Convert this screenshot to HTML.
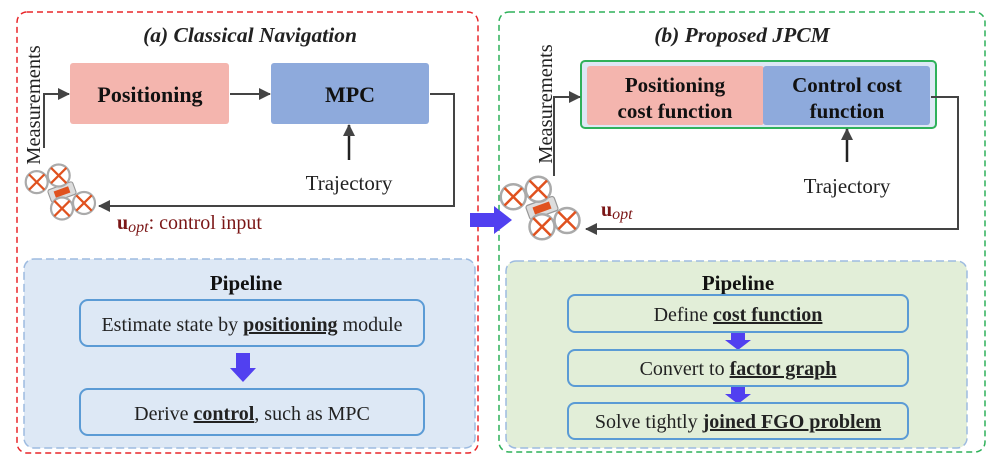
<!DOCTYPE html>
<html><head><meta charset="utf-8"><style>
body{margin:0;background:#fff;}
svg{display:block;font-family:"Liberation Serif",serif;}
</style></head><body>
<svg width="1002" height="460" viewBox="0 0 1002 460" xmlns="http://www.w3.org/2000/svg">
<defs>
<marker id="ah" markerWidth="12" markerHeight="12" refX="11" refY="6" orient="auto" markerUnits="userSpaceOnUse"><path d="M0,0 L12,6 L0,12 z" fill="#444"/></marker>
<g id="drone">
 <rect x="-12" y="-6" width="24" height="12" rx="2" fill="#ddd" stroke="#999" transform="rotate(-20)"/>
 <rect x="-7" y="-3" width="14" height="6" fill="#e0521f" transform="rotate(-20)"/>
 <g stroke="#e0521f" stroke-width="2">
  <circle cx="-23" cy="-9" r="10" fill="#fff" stroke="#aaa" stroke-width="2"/>
  <path d="M-30,-16 L-16,-2 M-30,-2 L-16,-16"/>
  <circle cx="-3" cy="-15" r="10" fill="#fff" stroke="#aaa" stroke-width="2"/>
  <path d="M-10,-22 L4,-8 M-10,-8 L4,-22"/>
  <circle cx="0" cy="15" r="10" fill="#fff" stroke="#aaa" stroke-width="2"/>
  <path d="M-7,8 L7,22 M-7,22 L7,8"/>
  <circle cx="20" cy="10" r="10" fill="#fff" stroke="#aaa" stroke-width="2"/>
  <path d="M13,3 L27,17 M13,17 L27,3"/>
 </g>
</g>
</defs>
<rect x="17" y="12" width="461" height="441" rx="10" fill="none" stroke="#e8262a" stroke-width="1.5" stroke-dasharray="6,4"/>
<rect x="499" y="12" width="486" height="440" rx="10" fill="none" stroke="#2fb15a" stroke-width="1.5" stroke-dasharray="6,4"/>

<!-- (a) -->
<text x="250" y="42" text-anchor="middle" font-size="21.5" font-weight="bold" font-style="italic" fill="#222">(a) Classical Navigation</text>
<rect x="70" y="63" width="159" height="61" rx="3" fill="#f4b5ae"/>
<text x="150" y="102" text-anchor="middle" font-size="22" font-weight="bold" fill="#111">Positioning</text>
<rect x="271" y="63" width="158" height="61" rx="3" fill="#8eaadc"/>
<text x="350" y="102" text-anchor="middle" font-size="22" font-weight="bold" fill="#111">MPC</text>
<text transform="translate(40,105) rotate(-90)" text-anchor="middle" font-size="20.5" fill="#222">Measurements</text>
<path d="M44,148 V94 H69" fill="none" stroke="#444" stroke-width="2" marker-end="url(#ah)"/>
<path d="M230,94 H270" fill="none" stroke="#444" stroke-width="2" marker-end="url(#ah)"/>
<path d="M430,94 H454 V206 H99" fill="none" stroke="#444" stroke-width="2" marker-end="url(#ah)"/>
<path d="M349,160 V125" fill="none" stroke="#222" stroke-width="2.5" marker-end="url(#ah)"/>
<text x="349" y="190" text-anchor="middle" font-size="21" fill="#222">Trajectory</text>
<text x="117" y="229" font-size="20" fill="#7b1616"><tspan font-weight="bold">u</tspan><tspan font-style="italic" font-size="16" dy="3">opt</tspan><tspan dy="-3">: control input</tspan></text>
<use href="#drone" transform="translate(62,192) scale(1.1)"/>

<rect x="24" y="259" width="451" height="189" rx="10" fill="#dde8f5" stroke="#9dbbe0" stroke-width="1.5" stroke-dasharray="8,4"/>
<text x="246" y="290" text-anchor="middle" font-size="21" font-weight="bold" fill="#111">Pipeline</text>
<rect x="80" y="300" width="344" height="46" rx="8" fill="#dde8f5" stroke="#5b9bd5" stroke-width="2"/>
<text x="252" y="331" text-anchor="middle" font-size="20" fill="#222">Estimate state by <tspan font-weight="bold" text-decoration="underline">positioning</tspan> module</text>
<path d="M236,353 H250 V368 H256 L243,382 L230,368 H236 z" fill="#5140f0"/>
<rect x="80" y="389" width="344" height="46" rx="8" fill="#dde8f5" stroke="#5b9bd5" stroke-width="2"/>
<text x="252" y="420" text-anchor="middle" font-size="20" fill="#222">Derive <tspan font-weight="bold" text-decoration="underline">control</tspan>, such as MPC</text>

<path d="M470,213 H494 V206 L512,220 L494,234 V227 H470 z" fill="#5140f0"/>

<!-- (b) -->
<text x="742" y="42" text-anchor="middle" font-size="21.5" font-weight="bold" font-style="italic" fill="#222">(b) Proposed JPCM</text>
<rect x="581" y="61" width="355" height="67" rx="4" fill="#dde8f5" stroke="#2fb15a" stroke-width="2"/>
<rect x="587" y="66" width="177" height="59" rx="3" fill="#f4b5ae"/>
<rect x="763" y="66" width="167" height="59" rx="3" fill="#8eaadc"/>
<text x="675" y="92" text-anchor="middle" font-size="21" font-weight="bold" fill="#111">Positioning</text>
<text x="675" y="118" text-anchor="middle" font-size="21" font-weight="bold" fill="#111">cost function</text>
<text x="847" y="92" text-anchor="middle" font-size="21" font-weight="bold" fill="#111">Control cost</text>
<text x="847" y="118" text-anchor="middle" font-size="21" font-weight="bold" fill="#111">function</text>
<text transform="translate(552,104) rotate(-90)" text-anchor="middle" font-size="20.5" fill="#222">Measurements</text>
<path d="M554,176 V97 H580" fill="none" stroke="#444" stroke-width="2" marker-end="url(#ah)"/>
<path d="M931,97 H958 V229 H586" fill="none" stroke="#444" stroke-width="2" marker-end="url(#ah)"/>
<path d="M847,162 V129" fill="none" stroke="#222" stroke-width="2.5" marker-end="url(#ah)"/>
<text x="847" y="193" text-anchor="middle" font-size="21" fill="#222">Trajectory</text>
<text x="601" y="216" font-size="20" fill="#7b1616"><tspan font-weight="bold">u</tspan><tspan font-style="italic" font-size="16" dy="3">opt</tspan></text>
<use href="#drone" transform="translate(542,208) scale(1.25)"/>

<rect x="506" y="261" width="461" height="187" rx="10" fill="#e2eed8" stroke="#9dbbe0" stroke-width="1.5" stroke-dasharray="8,4"/>
<text x="738" y="290" text-anchor="middle" font-size="21" font-weight="bold" fill="#111">Pipeline</text>
<rect x="568" y="295" width="340" height="37" rx="7" fill="#e2eed8" stroke="#5b9bd5" stroke-width="2"/>
<text x="738" y="321" text-anchor="middle" font-size="20" fill="#222">Define <tspan font-weight="bold" text-decoration="underline">cost function</tspan></text>
<path d="M731,333 H745 V340 H751 L738,350 L725,340 H731 z" fill="#5140f0"/>
<rect x="568" y="350" width="340" height="36" rx="7" fill="#e2eed8" stroke="#5b9bd5" stroke-width="2"/>
<text x="738" y="375" text-anchor="middle" font-size="20" fill="#222">Convert to <tspan font-weight="bold" text-decoration="underline">factor graph</tspan></text>
<path d="M731,387 H745 V394 H751 L738,404 L725,394 H731 z" fill="#5140f0"/>
<rect x="568" y="403" width="340" height="36" rx="7" fill="#e2eed8" stroke="#5b9bd5" stroke-width="2"/>
<text x="738" y="428" text-anchor="middle" font-size="20" fill="#222">Solve tightly <tspan font-weight="bold" text-decoration="underline">joined FGO problem</tspan></text>
</svg>
</body></html>
